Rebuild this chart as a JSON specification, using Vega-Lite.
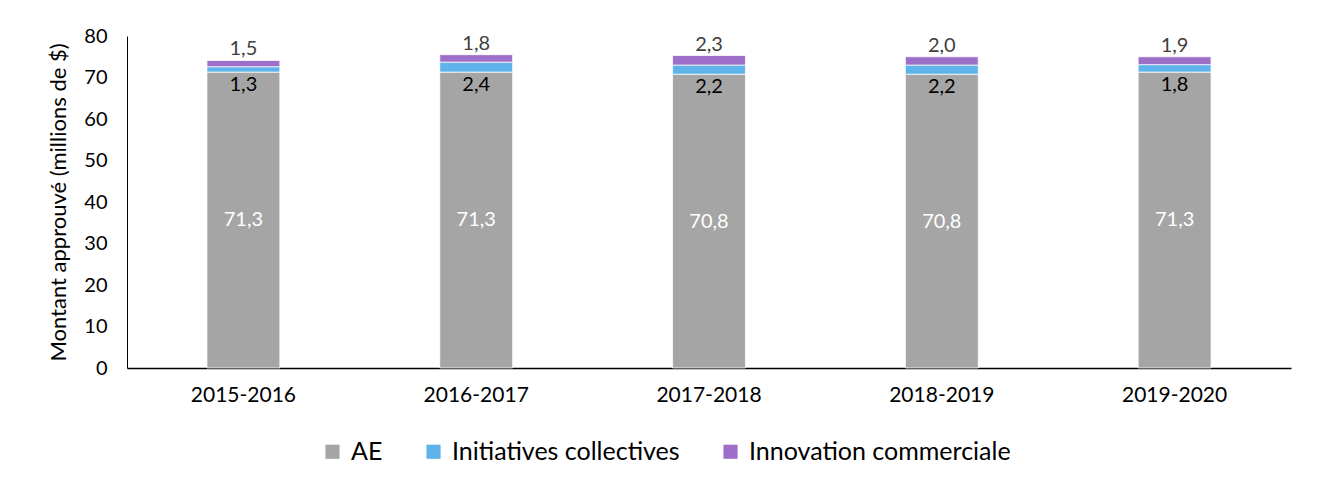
{
  "$schema": "https://vega.github.io/schema/vega-lite/v6.json",
  "width": 1164,
  "height": 332,
  "autosize": {"type": "none"},
  "padding": {"left": 127, "top": 36, "right": 32, "bottom": 118},
  "background": "white",
  "config": {
    "locale": {"number": {"decimal": ",", "thousands": " ", "grouping": [3], "currency": ["", " $"]}},
    "view": {"stroke": null},
    "font": "Lato"
  },
  "data": {
    "values": [
      {"year": "2015-2016", "series": "AE", "value": 71.3},
      {"year": "2015-2016", "series": "Initiatives collectives", "value": 1.3},
      {"year": "2015-2016", "series": "Innovation commerciale", "value": 1.5},
      {"year": "2016-2017", "series": "AE", "value": 71.3},
      {"year": "2016-2017", "series": "Initiatives collectives", "value": 2.4},
      {"year": "2016-2017", "series": "Innovation commerciale", "value": 1.8},
      {"year": "2017-2018", "series": "AE", "value": 70.8},
      {"year": "2017-2018", "series": "Initiatives collectives", "value": 2.2},
      {"year": "2017-2018", "series": "Innovation commerciale", "value": 2.3},
      {"year": "2018-2019", "series": "AE", "value": 70.8},
      {"year": "2018-2019", "series": "Initiatives collectives", "value": 2.2},
      {"year": "2018-2019", "series": "Innovation commerciale", "value": 2.0},
      {"year": "2019-2020", "series": "AE", "value": 71.3},
      {"year": "2019-2020", "series": "Initiatives collectives", "value": 1.8},
      {"year": "2019-2020", "series": "Innovation commerciale", "value": 1.9}
    ]
  },
  "transform": [
    {"stack": "value", "groupby": ["year"], "sort": [{"field": "series", "order": "ascending"}], "as": ["v0", "v1"]}
  ],
  "encoding": {
    "x": {
      "field": "year",
      "type": "nominal",
      "scale": {"paddingInner": 0.687, "paddingOuter": 0.3435},
      "axis": {
        "title": null,
        "labelAngle": 0,
        "labelFontSize": 21,
        "labelColor": "#000000",
        "labelPadding": 16,
        "ticks": false,
        "domainColor": "#000000",
        "domainWidth": 1.5
      }
    }
  },
  "layer": [
    {
      "mark": {"type": "bar", "stroke": "#ffffff", "strokeWidth": 0.75},
      "encoding": {
        "y": {
          "field": "v0",
          "type": "quantitative",
          "scale": {"domain": [0, 80]},
          "axis": {
            "values": [0, 10, 20, 30, 40, 50, 60, 70, 80],
            "grid": false,
            "ticks": false,
            "labelFontSize": 20,
            "labelColor": "#000000",
            "labelPadding": 20,
            "domainColor": "#000000",
            "domainWidth": 1,
            "title": "Montant approuvé (millions de $)",
            "titleFontSize": 22,
            "titleFontWeight": "normal",
            "titleColor": "#000000",
            "titlePadding": 13
          }
        },
        "y2": {"field": "v1"},
        "color": {
          "field": "series",
          "type": "nominal",
          "scale": {
            "domain": ["AE", "Initiatives collectives", "Innovation commerciale"],
            "range": ["#A5A5A5", "#5DB3EA", "#9E6FC8"]
          },
          "legend": {
            "title": null,
            "orient": "none",
            "direction": "horizontal",
            "legendX": 193,
            "legendY": 403,
            "symbolType": "square",
            "symbolSize": 200,
            "symbolStrokeWidth": 0,
            "labelFontSize": 25,
            "labelLimit": 500,
            "labelColor": "#000000",
            "labelOffset": 6,
            "columnPadding": 38
          }
        }
      }
    },
    {
      "transform": [{"filter": "datum.series === 'AE'"}],
      "mark": {"type": "text", "fontSize": 20, "color": "#ffffff", "baseline": "middle", "dy": 148},
      "encoding": {
        "y": {"field": "v1", "type": "quantitative"},
        "text": {"field": "value", "type": "quantitative", "format": ".1f"}
      }
    },
    {
      "transform": [{"filter": "datum.series === 'Initiatives collectives'"}],
      "mark": {"type": "text", "fontSize": 20, "color": "#000000", "baseline": "middle", "dy": 13},
      "encoding": {
        "y": {"field": "v0", "type": "quantitative"},
        "text": {"field": "value", "type": "quantitative", "format": ".1f"}
      }
    },
    {
      "transform": [{"filter": "datum.series === 'Innovation commerciale'"}],
      "mark": {"type": "text", "fontSize": 20, "color": "#404040", "baseline": "middle", "dy": -11},
      "encoding": {
        "y": {"field": "v1", "type": "quantitative"},
        "text": {"field": "value", "type": "quantitative", "format": ".1f"}
      }
    }
  ]
}
